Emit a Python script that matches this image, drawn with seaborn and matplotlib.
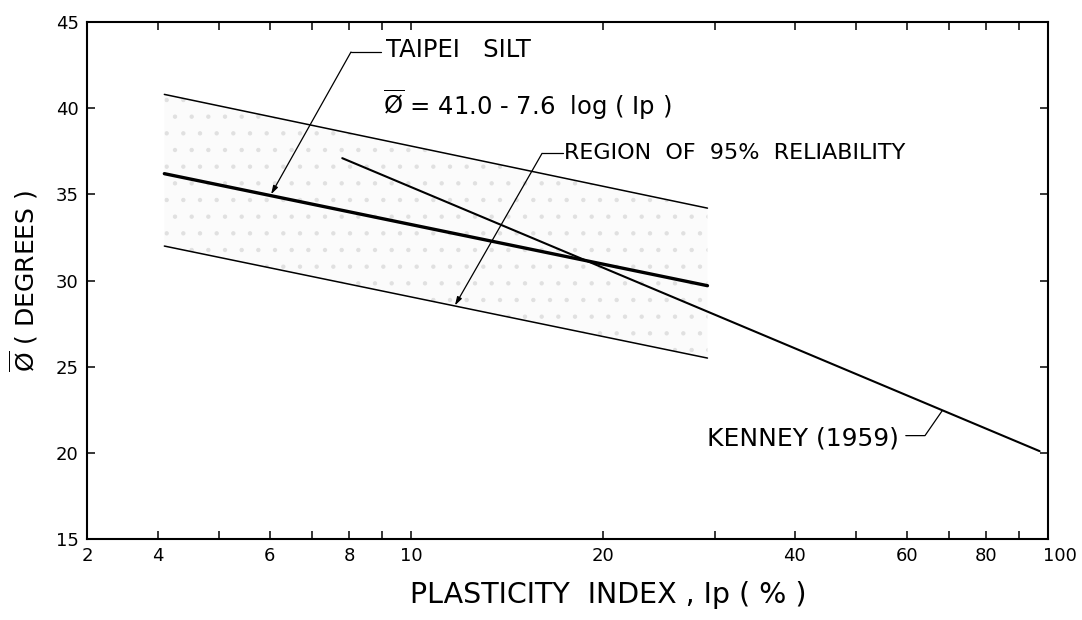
import matplotlib
matplotlib.use("Agg")
import matplotlib.pyplot as plt
import matplotlib.transforms as mtransforms
import seaborn as sns

# values (Ip in %, phi in degrees)
band_ip = [4.1, 29.2]
upper_phi = [40.8, 34.2]
taipei_phi = [36.2, 29.7]
lower_phi = [32.0, 25.5]

kenney_ip = [7.8, 97.0]
kenney_phi = [37.1, 20.1]

x_major = [3.1, 4, 6, 8, 10, 20, 40, 60, 80, 100]
x_labels = ['2', '4', '6', '8', '10', '20', '40', '60', '80', '100']
x_minor = [5, 7, 9, 30, 50, 70, 90]
y_ticks = [15, 20, 25, 30, 35, 40, 45]

sns.set_style('ticks', {'xtick.direction': 'in', 'ytick.direction': 'in'})
plt.rcParams['font.family'] = ['DejaVu Sans']
plt.rcParams['mathtext.fontset'] = 'dejavusans'
plt.rcParams['text.color'] = 'black'
plt.rcParams['axes.labelcolor'] = 'black'
plt.rcParams['xtick.color'] = 'black'
plt.rcParams['ytick.color'] = 'black'
plt.rcParams['hatch.linewidth'] = 0.7

fig = plt.figure(figsize=(10.82, 6.2), dpi=100)
ax = fig.add_axes([0.0804, 0.1306, 0.8882, 0.8339])

# shaded band of 95% reliability (light stipple)
ax.fill_between(band_ip, lower_phi, upper_phi, facecolor='#fbfbfb',
                edgecolor='#e0e0e0', hatch='.', linewidth=0)

sns.lineplot(x=band_ip, y=upper_phi, ax=ax, color='black', linewidth=1.1)
sns.lineplot(x=band_ip, y=lower_phi, ax=ax, color='black', linewidth=1.1)
sns.lineplot(x=band_ip, y=taipei_phi, ax=ax, color='black', linewidth=2.4)
sns.lineplot(x=kenney_ip, y=kenney_phi, ax=ax, color='black', linewidth=1.5)

ax.set_xscale('log')
ax.set_xlim(3.1, 100)
ax.set_ylim(15, 45)
ax.set_xticks(x_major)
ax.set_xticklabels(x_labels)
ax.set_xticks(x_minor, minor=True)
ax.set_xticklabels([], minor=True)
ax.set_yticks(y_ticks)

ax.tick_params(which='both', direction='in', length=6, width=1.1,
               top=True, right=True, labelsize=13, pad=6)
for s in ax.spines.values():
    s.set_linewidth(1.5)
    s.set_color('black')
    s.set_visible(True)

# nudge the "100" label right like the original
lbl = ax.get_xticklabels()[-1]
lbl.set_transform(lbl.get_transform() +
                  mtransforms.ScaledTranslation(12 / 100, 0, fig.dpi_scale_trans))

phi_bar = r'$\overline{\mathrm{Ø}}$'

ax.set_xlabel('PLASTICITY  INDEX , Ip ( % )', fontsize=20.5)
ax.xaxis.set_label_coords(0.542, -0.082)
ax.set_ylabel(phi_bar + ' ( DEGREES )', fontsize=18)
ax.yaxis.set_label_coords(-0.049, 0.5)

# labels and leaders
lw_lead = 0.9
ax.text(9.14, 43.37, 'TAIPEI   SILT', fontsize=17.5, va='center', ha='left')
ax.plot([8.97, 8.05], [43.26, 43.26], color='black', lw=lw_lead)
ax.annotate('', xy=(6.03, 35.0), xytext=(8.05, 43.26),
            arrowprops=dict(arrowstyle='-|>,head_length=0.5,head_width=0.15',
                            color='black', lw=lw_lead, shrinkA=0, shrinkB=0))

ax.text(9.04, 40.17, phi_bar + ' = 41.0 - 7.6  log ( Ip )', fontsize=17.5,
        va='center', ha='left')

ax.text(17.4, 37.38, 'REGION  OF  95%  RELIABILITY', fontsize=16,
        va='center', ha='left')
ax.plot([17.3, 16.06], [37.38, 37.38], color='black', lw=lw_lead)
ax.annotate('', xy=(11.72, 28.55), xytext=(16.06, 37.38),
            arrowprops=dict(arrowstyle='-|>,head_length=0.5,head_width=0.15',
                            color='black', lw=lw_lead, shrinkA=0, shrinkB=0))

ax.text(29.1, 20.81, 'KENNEY (1959)', fontsize=18, va='center', ha='left')
ax.plot([59.8, 64.1, 68.2], [21.0, 21.0, 22.44], color='black', lw=lw_lead)

fig.savefig('out.png', dpi=100)
